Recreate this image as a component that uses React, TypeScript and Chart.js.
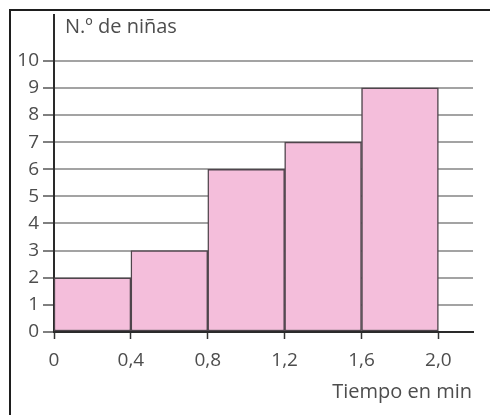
import React, { useEffect, useRef } from "react";
import { Chart, registerables } from "chart.js";

Chart.register(...registerables);

const intervalStarts = [0, 0.4, 0.8, 1.2, 1.6];
const intervalWidth = 0.4;
const girlCounts = [2, 3, 6, 7, 9];
const xTickValues = [0, 0.4, 0.8, 1.2, 1.6, 2.0];
const xTickLabels = ["0", "0,4", "0,8", "1,2", "1,6", "2,0"];
const yTickValues = [0, 1, 2, 3, 4, 5, 6, 7, 8, 9, 10];
const yAxisTitle = "N.º de niñas";
const xAxisTitle = "Tiempo en min";

const FONT = "'Open Sans', 'DejaVu Sans', sans-serif";
const TEXT = "#4d4d4d";

export default function App() {
  const ref = useRef<HTMLCanvasElement | null>(null);

  useEffect(() => {
    if (!ref.current) return;
    const chart = new Chart(ref.current, {
      type: "bar",
      data: {
        datasets: [
          {
            data: intervalStarts.map((s, i) => ({ x: s + intervalWidth / 2, y: girlCounts[i] })),
            backgroundColor: "#f4bedb",
            borderColor: "#4f454c",
            borderWidth: 1.5,
            borderSkipped: false,
            barPercentage: 1,
            categoryPercentage: 1,
          },
        ],
      },
      options: {
        responsive: false,
        animation: false,
        layout: { padding: { top: 10, right: 17, left: 0, bottom: 0 } },
        plugins: { legend: { display: false }, tooltip: { enabled: false } },
        scales: {
          x: {
            type: "linear",
            offset: false,
            min: 0,
            max: 2.18,
            afterBuildTicks: (s: any) => {
              s.ticks = xTickValues.map((v) => ({ value: v }));
            },
            afterFit: (s: any) => {
              s.height = 83;
            },
            ticks: {
              autoSkip: false,
              maxRotation: 0,
              padding: 10,
              color: TEXT,
              font: { family: FONT, size: 19 },
              callback: (v: any) => {
                const i = xTickValues.findIndex((t) => Math.abs(t - Number(v)) < 1e-6);
                return i >= 0 ? xTickLabels[i] : "";
              },
            },
            grid: {
              offset: false,
              drawOnChartArea: false,
              drawTicks: true,
              tickLength: 7,
              tickColor: "#333",
              tickWidth: 1.5,
            },
            border: { display: true, color: "#2a2a2a", width: 2 },
          },
          y: {
            type: "linear",
            min: 0,
            max: 11.67,
            afterBuildTicks: (s: any) => {
              s.ticks = yTickValues.map((v) => ({ value: v }));
            },
            afterFit: (s: any) => {
              s.width = 54;
            },
            ticks: {
              autoSkip: false,
              padding: 4,
              color: TEXT,
              font: { family: FONT, size: 19 },
            },
            grid: {
              drawOnChartArea: true,
              color: "#a3a3a3",
              lineWidth: 2,
              drawTicks: true,
              tickLength: 11,
              tickColor: "#555",
              tickWidth: 1.5,
            },
            border: { display: true, color: "#2a2a2a", width: 2 },
          },
        },
      },
    } as any);
    return () => chart.destroy();
  }, []);

  return (
    <div style={{ position: "absolute", left: 0, top: 0, width: 490, height: 415, background: "#fff", overflow: "hidden" }}>
      <div
        style={{
          position: "absolute",
          left: 9,
          top: 9,
          width: 600,
          height: 600,
          borderTop: "2px solid #1e1e1e",
          borderLeft: "2px solid #1e1e1e",
        }}
      />
      <canvas ref={ref} width={490} height={415} style={{ position: "absolute", left: 0, top: 0, width: 490, height: 415 }} />
      <div
        style={{
          position: "absolute",
          left: 65,
          top: 13,
          fontFamily: FONT,
          fontSize: 20,
          color: TEXT,
          whiteSpace: "nowrap",
          lineHeight: "26px",
        }}
      >
        {yAxisTitle}
      </div>
      <div
        style={{
          position: "absolute",
          right: 18,
          top: 378,
          fontFamily: FONT,
          fontSize: 20,
          color: TEXT,
          whiteSpace: "nowrap",
          lineHeight: "26px",
        }}
      >
        {xAxisTitle}
      </div>
    </div>
  );
}
